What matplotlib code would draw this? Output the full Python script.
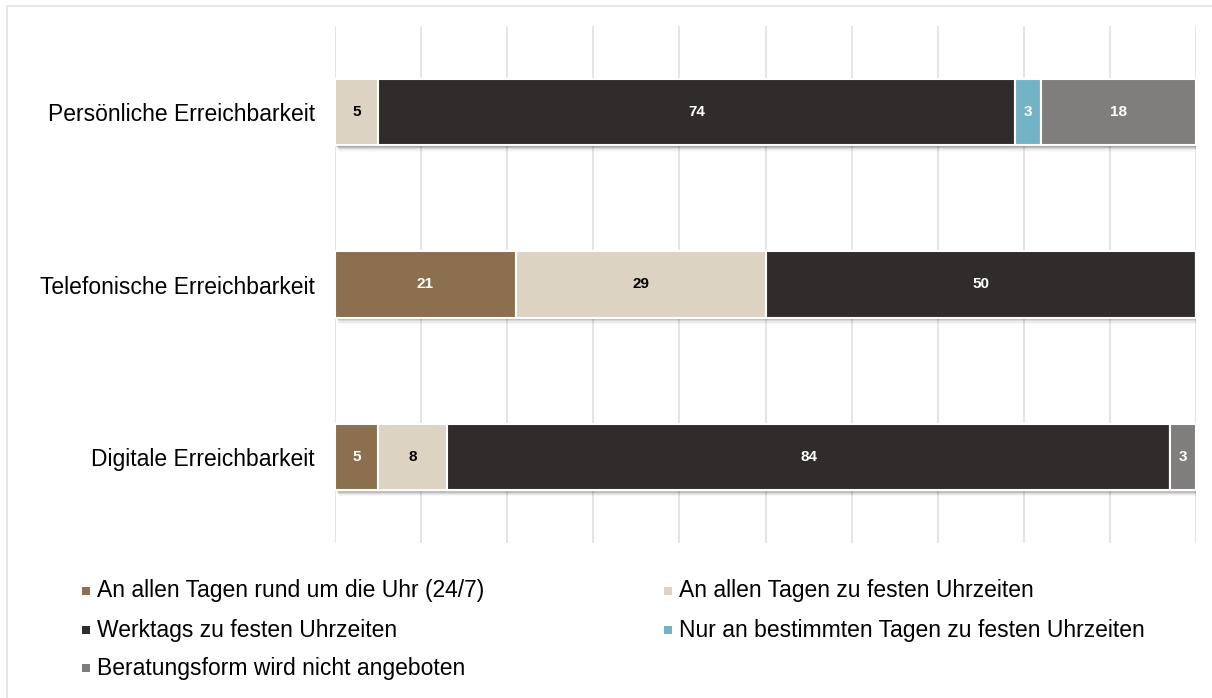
import numpy as np
import matplotlib
matplotlib.use("Agg")
import matplotlib.pyplot as plt
import matplotlib.transforms as mtransforms
from matplotlib.patches import Rectangle

plt.rcParams["font.family"] = ["Liberation Sans", "DejaVu Sans"]

categories = ["Digitale Erreichbarkeit", "Telefonische Erreichbarkeit", "Persönliche Erreichbarkeit"]
series = [
    "An allen Tagen rund um die Uhr (24/7)",
    "An allen Tagen zu festen Uhrzeiten",
    "Werktags zu festen Uhrzeiten",
    "Nur an bestimmten Tagen zu festen Uhrzeiten",
    "Beratungsform wird nicht angeboten",
]
# values per series, ordered like categories (bottom to top)
rund_um_die_uhr = [5, 21, 0]
alle_tage_fest = [8, 29, 5]
werktags_fest = [84, 50, 74]
bestimmte_tage = [0, 0, 3]
nicht_angeboten = [3, 0, 18]
values = [rund_um_die_uhr, alle_tage_fest, werktags_fest, bestimmte_tage, nicht_angeboten]

colors = ["#8b6f4e", "#dcd3c3", "#302c2b", "#72b4c6", "#7f7e7c"]
text_colors = ["white", "black", "white", "white", "white"]

fig = plt.figure(figsize=(12.12, 6.98), dpi=100)
ax = fig.add_axes([335 / 1212, 1 - 543 / 698, 861 / 1212, 517 / 698])

# light frame around the chart
fig.patches.append(Rectangle((7 / 1212, -0.05), 1.1, 1 - 6 / 698 + 0.05, transform=fig.transFigure,
                             fill=False, edgecolor="#e3e3e3", linewidth=1.2))

y = np.arange(len(categories))
h = 0.385
left = np.zeros(len(categories))

# soft shadows under the bars
for vals in values:
    for i, v in enumerate(vals):
        if v == 0:
            continue
        for k, a in [(1, 0.14), (2, 0.11), (3, 0.08), (4, 0.05), (5, 0.03)]:
            tr = mtransforms.offset_copy(ax.transData, fig=fig, x=k * 0.6, y=-k * 0.9, units="points")
            ax.add_patch(Rectangle((left[i], y[i] - h / 2), v, h, facecolor="black",
                                   alpha=a, linewidth=0, transform=tr, zorder=1))
        left[i] += v

left = np.zeros(len(categories))
for vals, c, tc in zip(values, colors, text_colors):
    vals = np.array(vals, dtype=float)
    ax.barh(y, vals, h, left=left, color=c, edgecolor="white", linewidth=1.5, zorder=2)
    for i, v in enumerate(vals):
        if v > 0:
            ax.text(left[i] + v / 2, y[i], f"{int(v)}", ha="center", va="center",
                    color=tc, fontsize=11, fontweight="bold", zorder=3)
    left += vals

ax.set_xlim(0, 100)
ax.set_ylim(-0.5, 2.5)
ax.set_xticks(np.arange(0, 101, 10))
ax.xaxis.grid(True, color="#e0e0e0", linewidth=1.2, zorder=0)
ax.set_axisbelow(True)
ax.tick_params(axis="x", length=0, labelbottom=False)
ax.set_yticks(y)
ax.set_yticklabels(categories, fontsize=16.5)
ax.tick_params(axis="y", length=0, pad=14.5)
for s in ax.spines.values():
    s.set_visible(False)

# legend in two columns
pos = [(82, 591), (664, 591), (82, 630), (664, 630), (82, 668)]
for (px, py), name, c in zip(pos, series, colors):
    fig.patches.append(Rectangle((px / 1212, 1 - (py + 4) / 698), 8 / 1212, 8 / 698,
                                 transform=fig.transFigure, facecolor=c, edgecolor="none"))
    fig.text((px + 15) / 1212, 1 - py / 698, name, fontsize=16.5, va="center", ha="left")

fig.savefig("out.png", dpi=100)
